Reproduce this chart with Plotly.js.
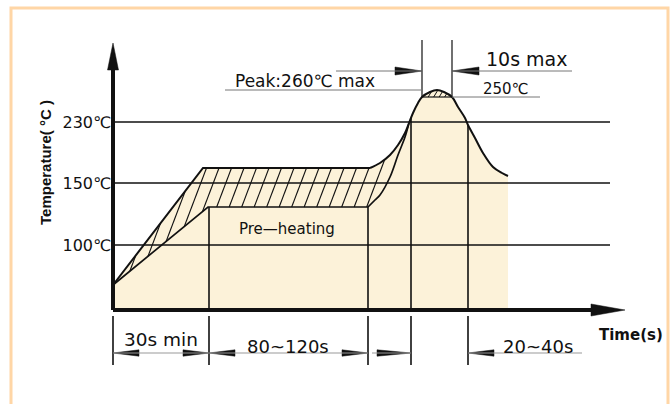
<!DOCTYPE html>
<html><head><meta charset="utf-8">
<script src="https://cdn.plot.ly/plotly-3.0.1.min.js"></script>
<style>html,body{margin:0;padding:0;background:#fff}#chart{width:670px;height:404px}</style>
</head><body><div id="chart"></div>
<script>
// ---------- DATA (schematic diagram units: time across, temperature level up) ----------
const timeMarks = [0, 96, 255, 298, 355];          // phase boundaries
const peakWindow = [309, 339];                      // "10s max" window
const tempTickVals = [65, 127, 188];                // 100 / 150 / 230 levels
const tempTickText = ['100℃', '150℃', '230℃'];
const level250 = 213;
const levelPeak = 220;
const profileMaxX = [0, 90, 257, 267, 277, 285, 292, 296, 300, 305, 309, 317, 324, 331, 339, 345, 352, 355, 362, 370, 380, 389, 395];
const profileMaxY = [25, 142, 142, 147, 155, 165, 177, 187, 197, 207, 213, 218, 220, 218, 213, 203, 192, 185, 172, 157, 143, 137, 134];
const profileMinX = [0, 95, 255, 262, 267, 277, 285, 292, 296];
const profileMinY = [25, 103, 103, 110, 115, 133, 155, 173, 187];
const phaseLabels = ['30s min', '80~120s', '20~40s'];

// ---------- STYLE / LAYOUT CONSTANTS ----------
const FONT = 'DejaVu Sans, Liberation Sans, Arial, sans-serif';
const BEIGE = '#FCF2D9';
const INK = '#111';
const gridEnd = 497;
const xArrowTip = 512, yArrowTip = 267;
const dimY = -43, topArrowY = 239;
const straightEndMax = 2, straightEndMin = 2;   // index where straight ramp/plateau ends

function interp(xs, ys, x) {
  for (let i = 1; i < xs.length; i++) {
    if (x <= xs[i]) { const t = (x - xs[i-1]) / (xs[i] - xs[i-1]); return ys[i-1] + t * (ys[i] - ys[i-1]); }
  }
  return ys[ys.length - 1];
}
const mergeX = profileMinX[profileMinX.length - 1];
const envX = profileMinX.concat(profileMaxX.filter(v => v > mergeX));
const envY = profileMinY.concat(profileMaxY.filter((v, i) => profileMaxX[i] > mergeX));

function arrowHead(tipX, tipY, dx, dy, len, hw) {
  const bx = tipX - dx * len, by = tipY - dy * len, px = -dy, py = dx;
  return {type: 'scatter', mode: 'lines', x: [tipX, bx + px*hw, bx - px*hw, tipX], y: [tipY, by + py*hw, by - py*hw, tipY],
    fill: 'toself', fillcolor: INK, line: {color: INK, width: 0.5}, hoverinfo: 'skip', showlegend: false};
}
function inPoly(px, py, poly) {
  let inside = false;
  for (let i = 0, j = poly.length - 1; i < poly.length; j = i++) {
    const [xi, yi] = poly[i], [xj, yj] = poly[j];
    if (((yi > py) !== (yj > py)) && (px < (xj - xi) * (py - yi) / (yj - yi) + xi)) inside = !inside;
  }
  return inside;
}
// hatch segments clipped to a polygon (steep "/" strokes)
function hatch(poly, spacing, lean, yMin, yMax) {
  const hx = [], hy = [];
  const xs = poly.map(p => p[0]);
  const xMin = Math.min(...xs) - (yMax - yMin) * lean, xMax = Math.max(...xs);
  for (let c = xMin; c <= xMax; c += spacing) {
    let seg = null;
    for (let y = yMin; y <= yMax; y += 0.25) {
      const x = c + (y - yMin) * lean;
      if (inPoly(x, y, poly)) { if (!seg) seg = [x, y]; seg[2] = x; seg[3] = y; }
      else if (seg) { hx.push(seg[0], seg[2], null); hy.push(seg[1], seg[3], null); seg = null; }
    }
    if (seg) { hx.push(seg[0], seg[2], null); hy.push(seg[1], seg[3], null); }
  }
  return {hx, hy};
}

const traces = [];
// beige area under the profile
traces.push({type: 'scatter', mode: 'lines', x: profileMaxX, y: profileMaxY, fill: 'tozeroy', fillcolor: BEIGE,
  line: {width: 0}, hoverinfo: 'skip', showlegend: false});

// hatched band between the limit curves
const bandIdx = profileMaxX.map((v, i) => i).filter(i => profileMaxX[i] <= mergeX);
const bandPoly = bandIdx.map(i => [profileMaxX[i], profileMaxY[i]])
  .concat(profileMinX.map((v, i) => [v, profileMinY[i]]).reverse());
const band = hatch(bandPoly, 12.5, 0.38, 20, 192);
traces.push({type: 'scatter', mode: 'lines', x: band.hx, y: band.hy, connectgaps: false,
  line: {color: INK, width: 1.1}, hoverinfo: 'skip', showlegend: false});
// hatched cap above 250
const capIdx = profileMaxX.map((v, i) => i).filter(i => profileMaxX[i] >= peakWindow[0] && profileMaxX[i] <= peakWindow[1]);
const capPoly = capIdx.map(i => [profileMaxX[i], profileMaxY[i]]);
const cap = hatch(capPoly, 5.5, 0.6, level250, levelPeak + 1);
traces.push({type: 'scatter', mode: 'lines', x: cap.hx, y: cap.hy, connectgaps: false,
  line: {color: INK, width: 1}, hoverinfo: 'skip', showlegend: false});
traces.push({type: 'scatter', mode: 'lines', x: peakWindow, y: [level250, level250], line: {color: INK, width: 1.2},
  hoverinfo: 'skip', showlegend: false});

// limit curves: straight ramp/plateau + smooth rise/peak/fall
traces.push({type: 'scatter', mode: 'lines', x: profileMinX.slice(0, straightEndMin + 1), y: profileMinY.slice(0, straightEndMin + 1),
  line: {color: INK, width: 1.7}, hoverinfo: 'skip', showlegend: false});
traces.push({type: 'scatter', mode: 'lines', x: profileMinX.slice(straightEndMin), y: profileMinY.slice(straightEndMin),
  line: {color: INK, width: 1.7, shape: 'spline', smoothing: 1}, hoverinfo: 'skip', showlegend: false});
traces.push({type: 'scatter', mode: 'lines', x: profileMaxX.slice(0, straightEndMax + 1), y: profileMaxY.slice(0, straightEndMax + 1),
  line: {color: INK, width: 2}, hoverinfo: 'skip', showlegend: false});
traces.push({type: 'scatter', mode: 'lines', x: profileMaxX.slice(straightEndMax), y: profileMaxY.slice(straightEndMax),
  line: {color: INK, width: 2, shape: 'spline', smoothing: 1}, hoverinfo: 'skip', showlegend: false});

// axis arrowheads
traces.push(arrowHead(xArrowTip, 0, 1, 0, 34, 6));
traces.push(arrowHead(0, yArrowTip, 0, 1, 27, 5.5));
// dimension arrowheads (bottom)
traces.push(arrowHead(timeMarks[0], dimY, -1, 0, 26, 3.2));
traces.push(arrowHead(timeMarks[1], dimY, 1, 0, 26, 3.2));
traces.push(arrowHead(timeMarks[1], dimY, -1, 0, 26, 3.2));
traces.push(arrowHead(timeMarks[2], dimY, 1, 0, 26, 3.2));
traces.push(arrowHead(timeMarks[3], dimY, 1, 0, 34, 3.2));
traces.push(arrowHead(timeMarks[4], dimY, -1, 0, 26, 3.2));
// top arrowheads (10s window)
traces.push(arrowHead(peakWindow[0], topArrowY, 1, 0, 27, 4));
traces.push(arrowHead(peakWindow[1], topArrowY, -1, 0, 27, 4));

const shapes = [];
const L = (x0, y0, x1, y1, w, c) => shapes.push({type: 'line', xref: 'x', yref: 'y', x0, y0, x1, y1, line: {color: c || INK, width: w}});
// frame
shapes.push({type: 'rect', xref: 'x', yref: 'y', x0: -102, x1: 555, y0: 302, y1: -130, line: {color: '#FFD6A6', width: 3}, fillcolor: 'rgba(0,0,0,0)', layer: 'below'});
// grid lines
tempTickVals.forEach(v => L(0, v, gridEnd, v, 1.5));
// phase verticals + extension lines
timeMarks.forEach((t, i) => {
  if (i > 0) L(t, 0, t, interp(envX, envY, t), 1.6);
  L(t, -6, t, -55, 1.6);
});
// 10s window verticals
peakWindow.forEach(t => L(t, level250, t, 270, 1.2));
// axes
L(0, 0, xArrowTip - 20, 0, 4);
L(0, 0, 0, yArrowTip - 15, 4);
// dimension lines
L(timeMarks[0], dimY, timeMarks[2], dimY, 1, '#999');
L(timeMarks[2] + 4, dimY, timeMarks[3], dimY, 1, '#999');
L(timeMarks[4], dimY, 469, dimY, 1, '#999');
// top lines
L(223, topArrowY, peakWindow[0], topArrowY, 1, '#777');
L(peakWindow[1], topArrowY, 459, topArrowY, 1, '#777');
L(112, levelPeak, peakWindow[0], levelPeak, 1, '#777');
L(peakWindow[1], level250, 427, level250, 1, '#777');

const A = (text, x, y, size, extra) => Object.assign({text, x, y, xref: 'x', yref: 'y', showarrow: false,
  font: {family: FONT, size, color: INK}}, extra || {});
const annotations = [
  A('Peak:260℃ max', 192, 229, 17),
  A('10s max', 414, 251, 19),
  A('250℃', 392, 221, 15),
  A('Pre—heating', 174, 81, 15),
  A(phaseLabels[0], 48, -29, 18.5),
  A(phaseLabels[1], 175, -36, 18),
  A(phaseLabels[2], 425, -36, 18),
  A('<b>Time(s)</b>', 518, -25, 15),
  A('<b>Temperature( °C )</b>', -68, 147, 15, {textangle: -90, font: {family: 'Liberation Sans, Arial, sans-serif', size: 15, color: INK}})
];

const layout = {
  width: 670, height: 404, margin: {l: 0, r: 0, t: 0, b: 0},
  paper_bgcolor: '#fff', plot_bgcolor: 'rgba(0,0,0,0)', showlegend: false,
  xaxis: {range: [-113, 557], visible: false, fixedrange: true},
  yaxis: {range: [-94, 310], anchor: 'free', position: 113 / 670, tickvals: tempTickVals, ticktext: tempTickText,
    ticks: '', showgrid: false, zeroline: false, showline: false, fixedrange: true, ticklabelstandoff: 2,
    tickfont: {family: FONT, size: 16, color: INK}},
  shapes, annotations
};
Plotly.newPlot('chart', traces, layout, {staticPlot: true, displayModeBar: false});
</script></body></html>
